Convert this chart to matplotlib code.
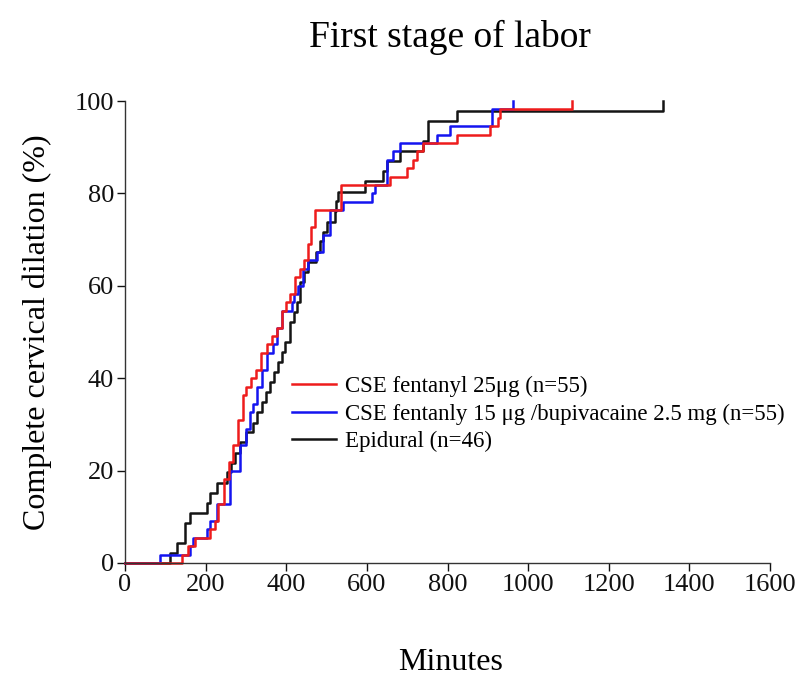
import matplotlib
matplotlib.use("Agg")
import matplotlib.pyplot as plt

plt.rcParams['font.family'] = ['Liberation Serif', 'DejaVu Serif']

# step curves: event times (minutes) and cumulative % fully dilated
red_t = [0, 141, 157, 174, 211, 223, 231, 245, 257, 268, 280, 293, 300, 312, 324,
         337, 352, 364, 376, 389, 399, 409, 422, 434, 444, 454, 462, 471, 537, 657,
         670, 699, 715, 724, 740, 823, 905, 926, 930, 1109]
red_p = [0, 1.8, 3.6, 5.5, 7.3, 9.1, 12.7, 18.2, 21.8, 25.5, 30.9, 36.4, 38.2, 40.0,
         41.8, 45.5, 47.3, 49.1, 50.9, 54.5, 56.4, 58.2, 61.8, 63.6, 65.5, 69.1, 72.7,
         76.4, 81.8, 83.6, 83.6, 85.5, 87.3, 89.1, 90.9, 92.7, 94.5, 96.4, 98.2, 100]

blue_t = [0, 87, 161, 169, 203, 211, 227, 260, 285, 300, 310, 318, 328, 339, 352,
          368, 378, 389, 414, 420, 428, 442, 454, 476, 492, 508, 541, 612, 620, 649,
          665, 682, 773, 806, 910, 963]
blue_p = [0, 1.8, 3.6, 5.5, 7.3, 9.1, 12.7, 20.0, 25.5, 29.1, 32.7, 34.5, 38.2, 41.8,
          45.5, 47.3, 50.9, 54.5, 56.4, 58.2, 60.0, 63.6, 65.5, 67.3, 70.9, 76.4, 78.2,
          80.0, 81.8, 87.3, 89.1, 90.9, 92.7, 94.5, 98.2, 100]

black_t = [0, 112, 128, 149, 161, 203, 211, 227, 252, 262, 273, 285, 300, 318, 328,
           339, 350, 360, 370, 380, 389, 397, 409, 418, 426, 434, 445, 455, 475, 484,
           492, 500, 520, 524, 529, 595, 641, 649, 682, 740, 752, 823, 1335]
black_p = [0, 2.2, 4.3, 8.7, 10.9, 13.0, 15.2, 17.4, 19.6, 21.7, 23.9, 26.1, 28.3,
           30.4, 32.6, 34.8, 37.0, 39.1, 41.3, 43.5, 45.7, 47.8, 52.2, 54.3, 56.5,
           60.9, 63.0, 65.2, 67.4, 69.6, 71.7, 73.9, 76.1, 78.3, 80.4, 82.6, 84.8,
           87.0, 89.1, 91.3, 95.7, 97.8, 100]

labels = ['CSE fentanyl 25\u03bcg (n=55)',
          'CSE fentanly 15 \u03bcg /bupivacaine 2.5 mg (n=55)',
          'Epidural (n=46)']
colors = ['#ee1c1c', '#1414f0', '#141414']

fig = plt.figure(figsize=(8.04, 6.77), dpi=100)
ax = fig.add_axes([0.1555, 0.1684, 0.8022, 0.6824])

for t, p, c, lab in [(black_t, black_p, colors[2], labels[2]),
                     (blue_t, blue_p, colors[1], labels[1]),
                     (red_t, red_p, colors[0], labels[0])]:
    ax.step(t, p, where='post', color=c, lw=1.8, label=lab, clip_on=False)

ax.set_xlim(0, 1600)
ax.set_ylim(0, 100)
ax.set_xticks(range(0, 1601, 200))
ax.set_yticks(range(0, 101, 20))
for s in ['top', 'right']:
    ax.spines[s].set_visible(False)
for s in ['left', 'bottom']:
    ax.spines[s].set_linewidth(1.0)
    ax.spines[s].set_color('#333333')
ax.tick_params(direction='out', length=6, width=1.0, labelsize=19, colors='#111111', pad=2)

ax.set_ylabel('Complete cervical dilation (%)', fontsize=23, labelpad=16)
fig.text(0.56, 0.022, 'Minutes', ha='center', va='center', fontsize=23)
fig.text(0.56, 0.945, 'First stage of labor', ha='center', va='center', fontsize=27)

h, l = ax.get_legend_handles_labels()
order = [2, 1, 0]
ax.legend([h[i] for i in order], [l[i] for i in order], frameon=False,
          loc='upper left', bbox_to_anchor=(0.245, 0.425), fontsize=16.5,
          handlelength=1.9, handletextpad=0.4, labelspacing=0.28, borderaxespad=0)

fig.savefig('out.png', dpi=100, facecolor='white')
